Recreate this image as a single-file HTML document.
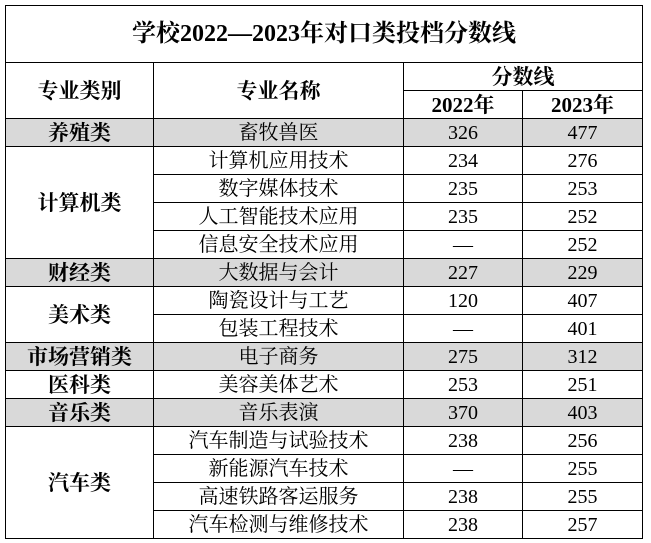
<!DOCTYPE html>
<html><head><meta charset="utf-8"><style>
body{margin:0;background:#fff;width:651px;height:543px;overflow:hidden}
table{position:absolute;left:5px;top:5px;border-collapse:collapse;table-layout:fixed;width:637px}
td{border:1px solid #000;padding:0;text-align:center;height:27px;font-family:"Liberation Serif","Noto Serif CJK SC",serif;font-size:20px;color:#000;line-height:26px;overflow:hidden;white-space:nowrap}
.b{font-family:"Liberation Serif","Noto Serif CJK SC",serif;font-weight:bold;font-size:21px}
.g td{background:#d9d9d9}
.t{height:56px;font-size:24px;font-weight:bold;font-family:"Liberation Serif","Noto Serif CJK SC",serif}
</style></head><body>
<table>
<colgroup><col style="width:148px"><col style="width:250px"><col style="width:119px"><col style="width:120px"></colgroup>
<tr><td colspan="4" class="t">学校2022—2023年对口类投档分数线</td></tr>
<tr><td rowspan="2" class="b">专业类别</td><td rowspan="2" class="b">专业名称</td><td colspan="2" class="b">分数线</td></tr>
<tr><td class="b">2022年</td><td class="b">2023年</td></tr>
<tr class="g"><td class="b">养殖类</td><td>畜牧兽医</td><td>326</td><td>477</td></tr>
<tr><td rowspan="4" class="b">计算机类</td><td>计算机应用技术</td><td>234</td><td>276</td></tr>
<tr><td>数字媒体技术</td><td>235</td><td>253</td></tr>
<tr><td>人工智能技术应用</td><td>235</td><td>252</td></tr>
<tr><td>信息安全技术应用</td><td>—</td><td>252</td></tr>
<tr class="g"><td class="b">财经类</td><td>大数据与会计</td><td>227</td><td>229</td></tr>
<tr><td rowspan="2" class="b">美术类</td><td>陶瓷设计与工艺</td><td>120</td><td>407</td></tr>
<tr><td>包装工程技术</td><td>—</td><td>401</td></tr>
<tr class="g"><td class="b">市场营销类</td><td>电子商务</td><td>275</td><td>312</td></tr>
<tr><td class="b">医科类</td><td>美容美体艺术</td><td>253</td><td>251</td></tr>
<tr class="g"><td class="b">音乐类</td><td>音乐表演</td><td>370</td><td>403</td></tr>
<tr><td rowspan="4" class="b">汽车类</td><td>汽车制造与试验技术</td><td>238</td><td>256</td></tr>
<tr><td>新能源汽车技术</td><td>—</td><td>255</td></tr>
<tr><td>高速铁路客运服务</td><td>238</td><td>255</td></tr>
<tr><td>汽车检测与维修技术</td><td>238</td><td>257</td></tr>
</table>
</body></html>
